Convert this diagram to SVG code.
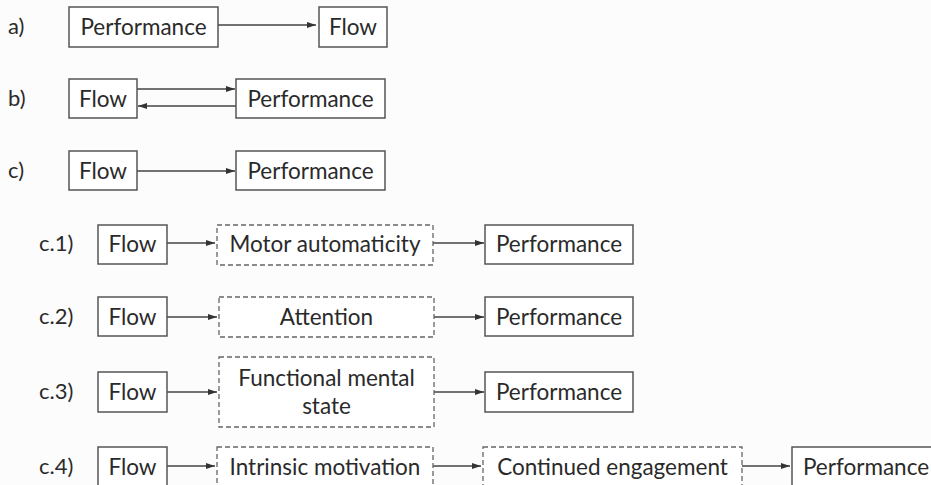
<svg xmlns="http://www.w3.org/2000/svg" width="931" height="485" viewBox="0 0 931 485">
<defs>
<style>
.box{fill:#ffffff;stroke:#555555;stroke-width:1.5}
.dash{fill:#ffffff;stroke:#666666;stroke-width:1.3;stroke-dasharray:5 3}
.t{font-family:Lato,"Liberation Sans",sans-serif;font-size:22.5px;fill:#2a2a2a;text-anchor:middle}
.lbl{font-family:Lato,"Liberation Sans",sans-serif;font-size:22px;fill:#2a2a2a}
.c{stroke:#444444;stroke-width:1.5;fill:none;marker-end:url(#ah)}
</style>
<marker id="ah" viewBox="0 0 9 6" refX="9" refY="3" markerWidth="9" markerHeight="6" markerUnits="userSpaceOnUse" orient="auto">
<path d="M0,0 L9,3 L0,6 z" fill="#333333"/>
</marker>
</defs>
<rect x="0" y="0" width="931" height="485" fill="#fcfcfc"/>
<g id="labels">
<text class="lbl" x="8" y="34">a)</text>
<text class="lbl" x="8" y="106">b)</text>
<text class="lbl" x="8" y="178">c)</text>
<text class="lbl" x="39" y="251">c.1)</text>
<text class="lbl" x="39" y="324">c.2)</text>
<text class="lbl" x="39" y="399">c.3)</text>
<text class="lbl" x="39" y="474">c.4)</text>
</g>
<g id="connectors">
<line class="c" x1="218" y1="25" x2="316" y2="25"/>
<line class="c" x1="137" y1="89" x2="235" y2="89"/>
<line class="c" x1="236" y1="106" x2="138" y2="106"/>
<line class="c" x1="137" y1="171" x2="235" y2="171"/>
<line class="c" x1="167" y1="243" x2="215" y2="243"/>
<line class="c" x1="433" y1="243" x2="484" y2="243"/>
<line class="c" x1="167" y1="317" x2="217" y2="317"/>
<line class="c" x1="434" y1="317" x2="484" y2="317"/>
<line class="c" x1="167" y1="392" x2="217" y2="392"/>
<line class="c" x1="434" y1="392" x2="484" y2="392"/>
<line class="c" x1="167" y1="466" x2="215" y2="466"/>
<line class="c" x1="433" y1="466" x2="481" y2="466"/>
<line class="c" x1="742" y1="466" x2="790" y2="466"/>
</g>
<g id="a-perf"><rect class="box" x="69" y="7" width="149" height="40"/><text class="t" x="143.5" y="35">Performance</text></g>
<g id="a-flow"><rect class="box" x="319" y="7" width="68" height="40"/><text class="t" x="353" y="35">Flow</text></g>
<g id="b-flow"><rect class="box" x="69" y="79" width="68" height="39"/><text class="t" x="103" y="106.5">Flow</text></g>
<g id="b-perf"><rect class="box" x="236" y="79" width="149" height="39"/><text class="t" x="310.5" y="106.5">Performance</text></g>
<g id="c-flow"><rect class="box" x="69" y="151" width="68" height="39"/><text class="t" x="103" y="178.5">Flow</text></g>
<g id="c-perf"><rect class="box" x="236" y="151" width="149" height="39"/><text class="t" x="310.5" y="178.5">Performance</text></g>
<g id="c1-flow"><rect class="box" x="98" y="225" width="69" height="39"/><text class="t" x="132.5" y="252">Flow</text></g>
<g id="c1-motor"><rect class="dash" x="217" y="225" width="216" height="40"/><text class="t" x="325" y="252">Motor automaticity</text></g>
<g id="c1-perf"><rect class="box" x="485" y="225" width="148" height="39"/><text class="t" x="559" y="252">Performance</text></g>
<g id="c2-flow"><rect class="box" x="98" y="297" width="69" height="39"/><text class="t" x="132.5" y="324.5">Flow</text></g>
<g id="c2-att"><rect class="dash" x="219" y="297" width="215" height="40"/><text class="t" x="326.5" y="324.5">Attention</text></g>
<g id="c2-perf"><rect class="box" x="485" y="297" width="148" height="39"/><text class="t" x="559" y="324.5">Performance</text></g>
<g id="c3-flow"><rect class="box" x="98" y="372" width="69" height="40"/><text class="t" x="132.5" y="400">Flow</text></g>
<g id="c3-fms"><rect class="dash" x="219" y="357" width="215" height="70"/><text class="t" x="326.5" y="386">Functional mental</text><text class="t" x="326.5" y="414">state</text></g>
<g id="c3-perf"><rect class="box" x="485" y="372" width="148" height="40"/><text class="t" x="559" y="400">Performance</text></g>
<g id="c4-flow"><rect class="box" x="98" y="447" width="69" height="40"/><text class="t" x="132.5" y="475">Flow</text></g>
<g id="c4-im"><rect class="dash" x="217" y="447" width="216" height="42"/><text class="t" x="325" y="475">Intrinsic motivation</text></g>
<g id="c4-ce"><rect class="dash" x="483" y="447" width="259" height="42"/><text class="t" x="612.5" y="475">Continued engagement</text></g>
<g id="c4-perf"><rect class="box" x="792" y="447" width="148" height="40"/><text class="t" x="866" y="475">Performance</text></g>
</svg>
